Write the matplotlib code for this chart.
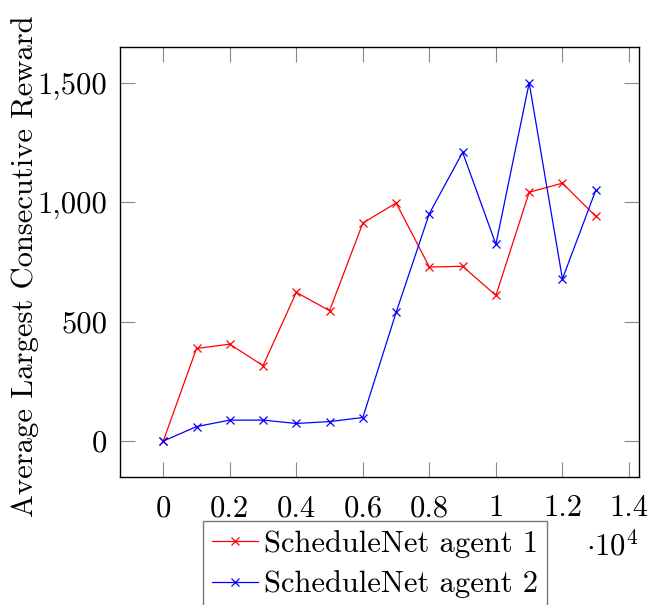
import numpy as np
import matplotlib
matplotlib.use("Agg")
import matplotlib.pyplot as plt
from matplotlib.ticker import FuncFormatter, MultipleLocator

plt.rcParams['font.family'] = 'serif'
plt.rcParams['font.serif'] = ['cmr10']
plt.rcParams['mathtext.fontset'] = 'cm'
plt.rcParams['axes.formatter.use_mathtext'] = True

# training episodes and rewards
episodes = [0, 1000, 2000, 3000, 4000, 5000, 6000, 7000, 8000, 9000,
            10000, 11000, 12000, 13000]
agent1 = [0, 388, 406, 316, 623, 546, 913, 997, 729, 732, 610, 1042, 1080, 941]
agent2 = [0, 61, 88, 88, 74, 82, 99, 539, 953, 1209, 824, 1500, 679, 1050]
labels = ['ScheduleNet agent 1', 'ScheduleNet agent 2']

FS = 22

fig = plt.figure(figsize=(6.5, 6.05), dpi=100)
ax = fig.add_axes([0.1846, 0.2116, 0.7984, 0.7107])

ax.plot(episodes, agent1, color='red', lw=0.9, marker='x', ms=6, mew=0.9,
        label=labels[0])
ax.plot(episodes, agent2, color='blue', lw=0.9, marker='x', ms=6, mew=0.9,
        label=labels[1])

ax.set_xlim(-1300, 14300)
ax.set_ylim(-150, 1650)
ax.xaxis.set_major_locator(MultipleLocator(2000))
ax.yaxis.set_major_locator(MultipleLocator(500))


def xfmt(v, pos):
    return '%g' % (v / 1e4)


def yfmt(v, pos):
    return '{:,}'.format(int(round(v)))


ax.xaxis.set_major_formatter(FuncFormatter(xfmt))
ax.yaxis.set_major_formatter(FuncFormatter(yfmt))

ax.tick_params(direction='in', length=11, width=0.8, color='#888888',
               top=True, right=True, labelsize=FS)
ax.tick_params(axis='x', pad=13)
ax.tick_params(axis='y', pad=9)
for sp in ax.spines.values():
    sp.set_linewidth(1.0)

ax.set_ylabel('Average Largest Consecutive Reward', fontsize=FS)
ax.yaxis.set_label_coords(-0.157, 0.49)

fig.text(0.9415, 0.098, r'$\cdot 10^4$', fontsize=FS, ha='center', va='center')

leg = ax.legend(loc='upper left', bbox_to_anchor=(0.16, -0.1023), fontsize=FS,
                frameon=True, fancybox=False, edgecolor='#555555',
                handlelength=1.5, handletextpad=0.2, borderpad=0.3,
                labelspacing=0.4, borderaxespad=0)
leg.get_frame().set_linewidth(1.0)

fig.savefig('out.png', dpi=100)
